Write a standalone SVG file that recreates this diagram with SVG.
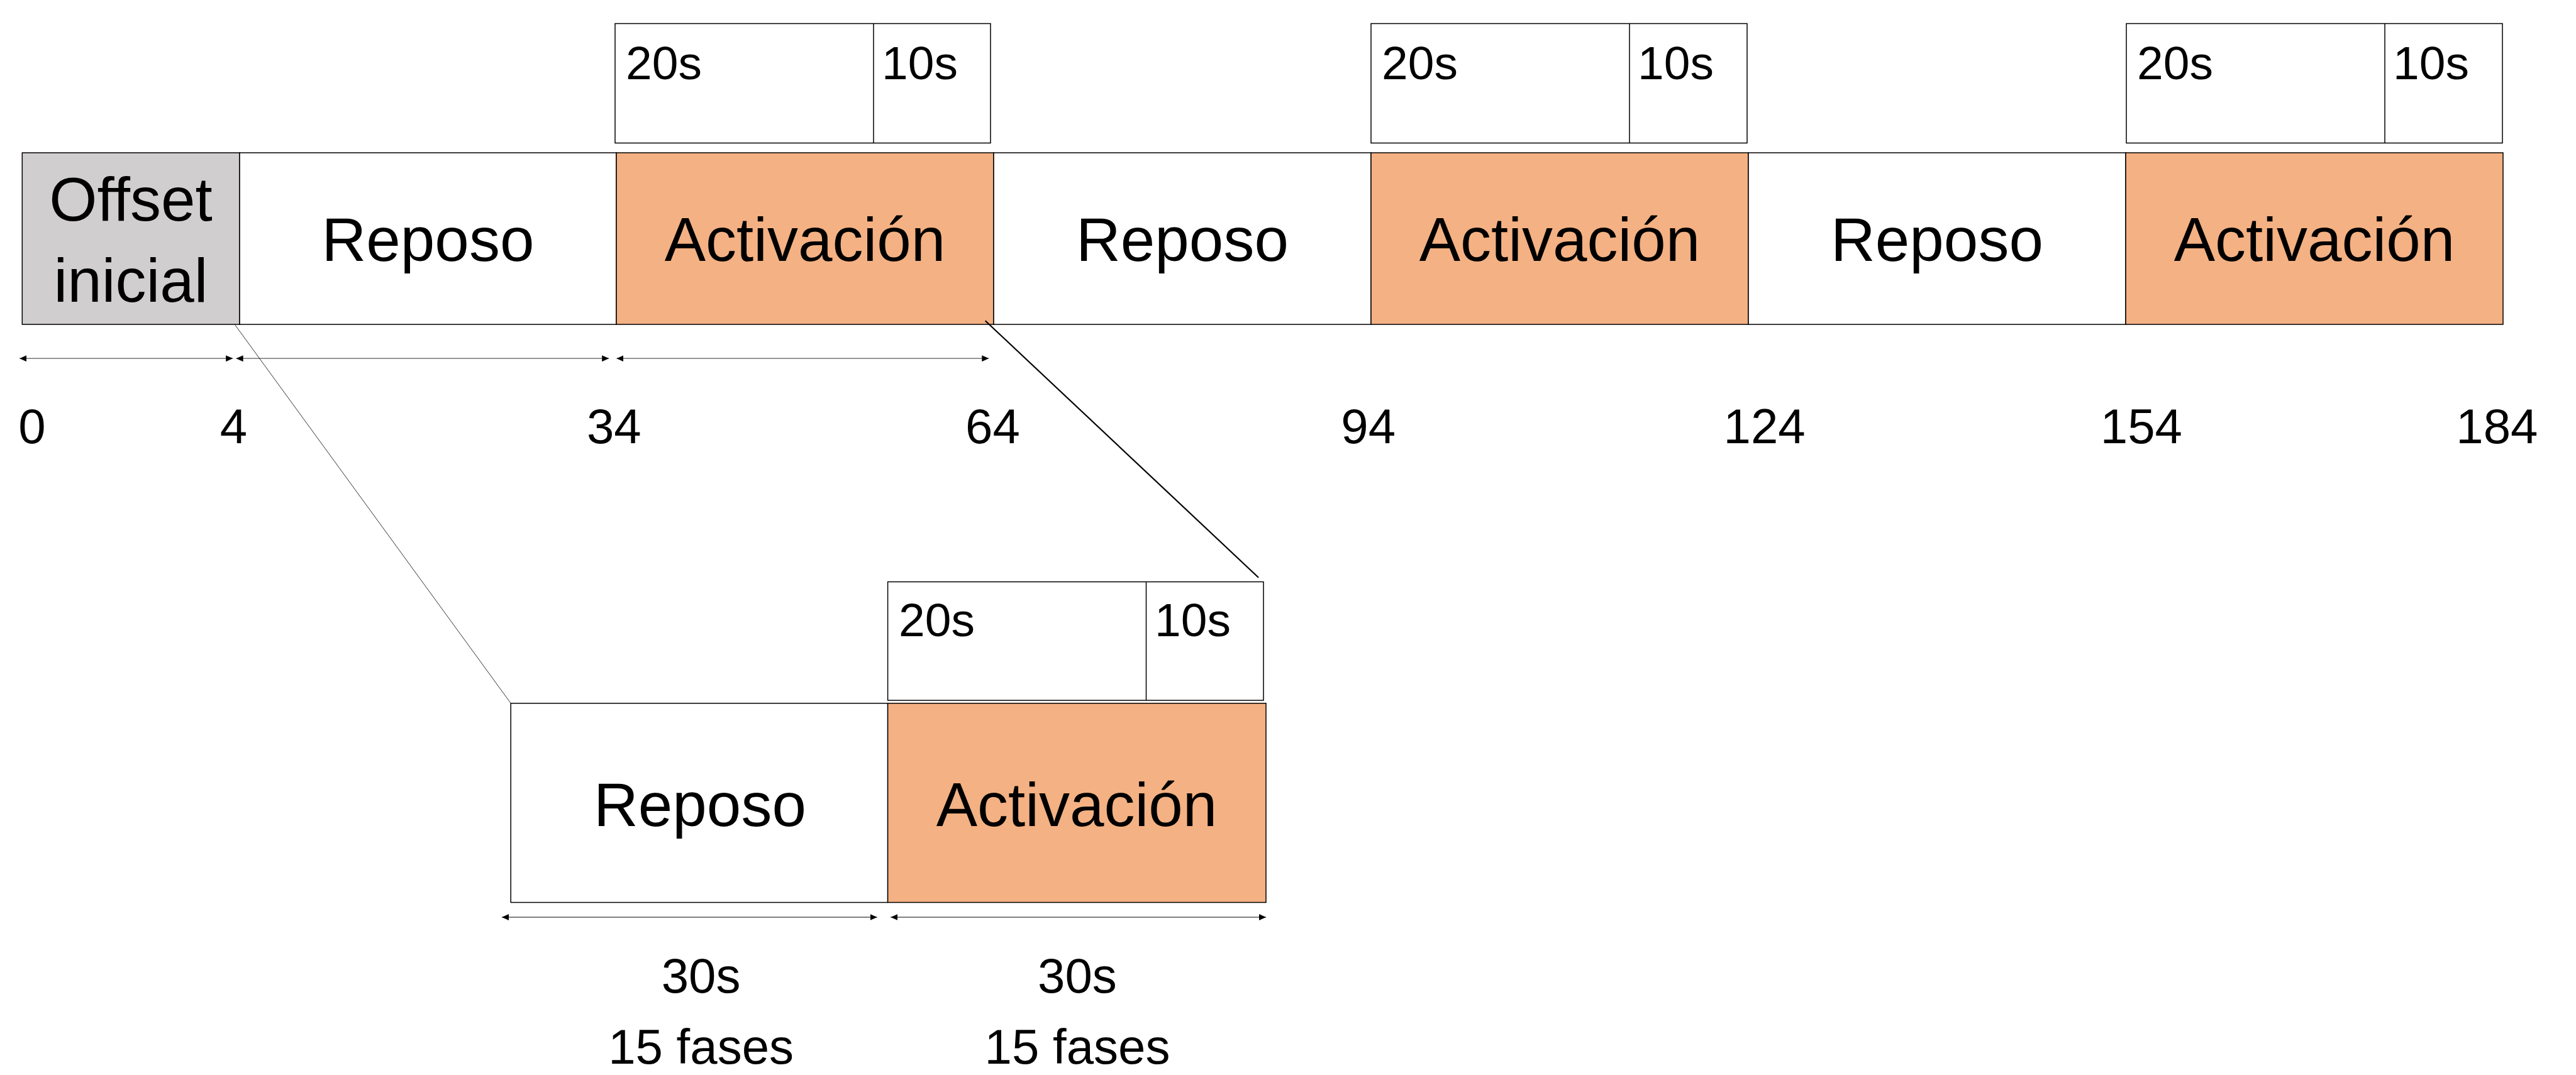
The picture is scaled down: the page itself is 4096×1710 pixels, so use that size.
<svg xmlns="http://www.w3.org/2000/svg" width="4096" height="1710" viewBox="0 0 4096 1710">
  <style>
    text { font-family: "Liberation Sans", Arial, sans-serif; fill: #000000; }
    .lbl { font-size: 98px; text-anchor: middle; }
    .sub { font-size: 75px; }
    .num { font-size: 78px; text-anchor: middle; }
    .seg { stroke: #000000; stroke-width: 1.5; }
    .off { fill: #D0CECE; }
    .rest { fill: #FFFFFF; }
    .act { fill: #F4B183; }
    .subbox { fill: #FFFFFF; stroke: #000000; stroke-width: 1.5; }
    .dim { stroke: #595959; stroke-width: 1.3; fill: none; marker-start: url(#arrowS); marker-end: url(#arrowE); }
    .dim2 { stroke: #000000; stroke-width: 1; fill: none; marker-start: url(#arrowS); marker-end: url(#arrowE); }
  </style>
  <defs>
    <marker id="arrowE" markerUnits="userSpaceOnUse" viewBox="0 0 11 10" refX="11" refY="5" markerWidth="11" markerHeight="10" orient="auto">
      <path d="M0,0 L11,5 L0,10 Z" fill="#000000"/>
    </marker>
    <marker id="arrowS" markerUnits="userSpaceOnUse" viewBox="0 0 11 10" refX="0" refY="5" markerWidth="11" markerHeight="10" orient="auto">
      <path d="M11,0 L0,5 L11,10 Z" fill="#000000"/>
    </marker>
  </defs>

  <rect width="4096" height="1710" fill="#FFFFFF"/>

  <!-- Main timeline -->
  <g id="offset">
    <rect class="seg off" x="35.3" y="243" width="345.7" height="273"/>
    <text class="lbl" x="208" y="350.5">Offset</text>
    <text class="lbl" x="208" y="480.4">inicial</text>
  </g>
  <g id="reposo1">
    <rect class="seg rest" x="381" y="243" width="599" height="273"/>
    <text class="lbl" x="680.5" y="415">Reposo</text>
  </g>
  <g id="activacion1">
    <rect class="seg act" x="980" y="243" width="600" height="273"/>
    <text class="lbl" x="1280" y="415">Activación</text>
  </g>
  <g id="reposo2">
    <rect class="seg rest" x="1580" y="243" width="600" height="273"/>
    <text class="lbl" x="1880" y="415">Reposo</text>
  </g>
  <g id="activacion2">
    <rect class="seg act" x="2180" y="243" width="600" height="273"/>
    <text class="lbl" x="2480" y="415">Activación</text>
  </g>
  <g id="reposo3">
    <rect class="seg rest" x="2780" y="243" width="600" height="273"/>
    <text class="lbl" x="3080" y="415">Reposo</text>
  </g>
  <g id="activacion3">
    <rect class="seg act" x="3380" y="243" width="600" height="273"/>
    <text class="lbl" x="3680" y="415">Activación</text>
  </g>

  <!-- Sub-boxes above activation -->
  <g id="sub1">
    <rect class="subbox" x="978" y="37.5" width="597" height="190"/>
    <line class="seg" x1="1389" y1="37.5" x2="1389" y2="227.5"/>
    <text class="sub" x="995" y="126">20s</text>
    <text class="sub" x="1402" y="126">10s</text>
  </g>
  <g id="sub2">
    <rect class="subbox" x="2180" y="37.5" width="598" height="190"/>
    <line class="seg" x1="2591" y1="37.5" x2="2591" y2="227.5"/>
    <text class="sub" x="2197" y="126">20s</text>
    <text class="sub" x="2604" y="126">10s</text>
  </g>
  <g id="sub3">
    <rect class="subbox" x="3381" y="37.5" width="598" height="190"/>
    <line class="seg" x1="3792" y1="37.5" x2="3792" y2="227.5"/>
    <text class="sub" x="3398" y="126">20s</text>
    <text class="sub" x="3805" y="126">10s</text>
  </g>

  <!-- Time ticks -->
  <g id="ticks">
    <text class="num" x="51" y="705">0</text>
    <text class="num" x="371.5" y="705">4</text>
    <text class="num" x="976.3" y="705">34</text>
    <text class="num" x="1578.4" y="705">64</text>
    <text class="num" x="2175.7" y="705">94</text>
    <text class="num" x="2805.6" y="705">124</text>
    <text class="num" x="3404.9" y="705">154</text>
    <text class="num" x="3970.4" y="705">184</text>
  </g>

  <!-- Detail view -->
  <g id="detail-reposo">
    <rect class="seg rest" x="812.2" y="1118.7" width="599.4" height="316.8"/>
    <text class="lbl" x="1113" y="1314">Reposo</text>
  </g>
  <g id="detail-activacion">
    <rect class="seg act" x="1411.6" y="1118.7" width="601.4" height="316.8"/>
    <text class="lbl" x="1712" y="1314">Activación</text>
  </g>
  <g id="detail-sub">
    <rect class="subbox" x="1411.6" y="925.5" width="597.4" height="188.5"/>
    <line class="seg" x1="1822.5" y1="925.5" x2="1822.5" y2="1114"/>
    <text class="sub" x="1429" y="1012">20s</text>
    <text class="sub" x="1836" y="1012">10s</text>
  </g>
  <g id="detail-labels">
    <text class="num" x="1114.6" y="1578.5">30s</text>
    <text class="num" x="1713" y="1578.5">30s</text>
    <text class="num" x="1114.6" y="1692">15 fases</text>
    <text class="num" x="1713" y="1692">15 fases</text>
  </g>

  <!-- Connectors -->
  <g id="connectors">
    <line class="dim" x1="31.2" y1="570.2" x2="370.2" y2="570.2"/>
    <line class="dim" x1="375.6" y1="570.2" x2="968.2" y2="570.2"/>
    <line class="dim" x1="980.4" y1="570.2" x2="1572.3" y2="570.2"/>
    <line class="dim2" x1="798" y1="1459" x2="1394.6" y2="1459"/>
    <line class="dim2" x1="1416.3" y1="1459" x2="2013" y2="1459"/>
    <line x1="373.6" y1="516.6" x2="812.2" y2="1118.7" stroke="#000000" stroke-width="0.8"/>
    <line x1="1566.7" y1="510.3" x2="2001.1" y2="918.7" stroke="#000000" stroke-width="2.2"/>
  </g>
</svg>
